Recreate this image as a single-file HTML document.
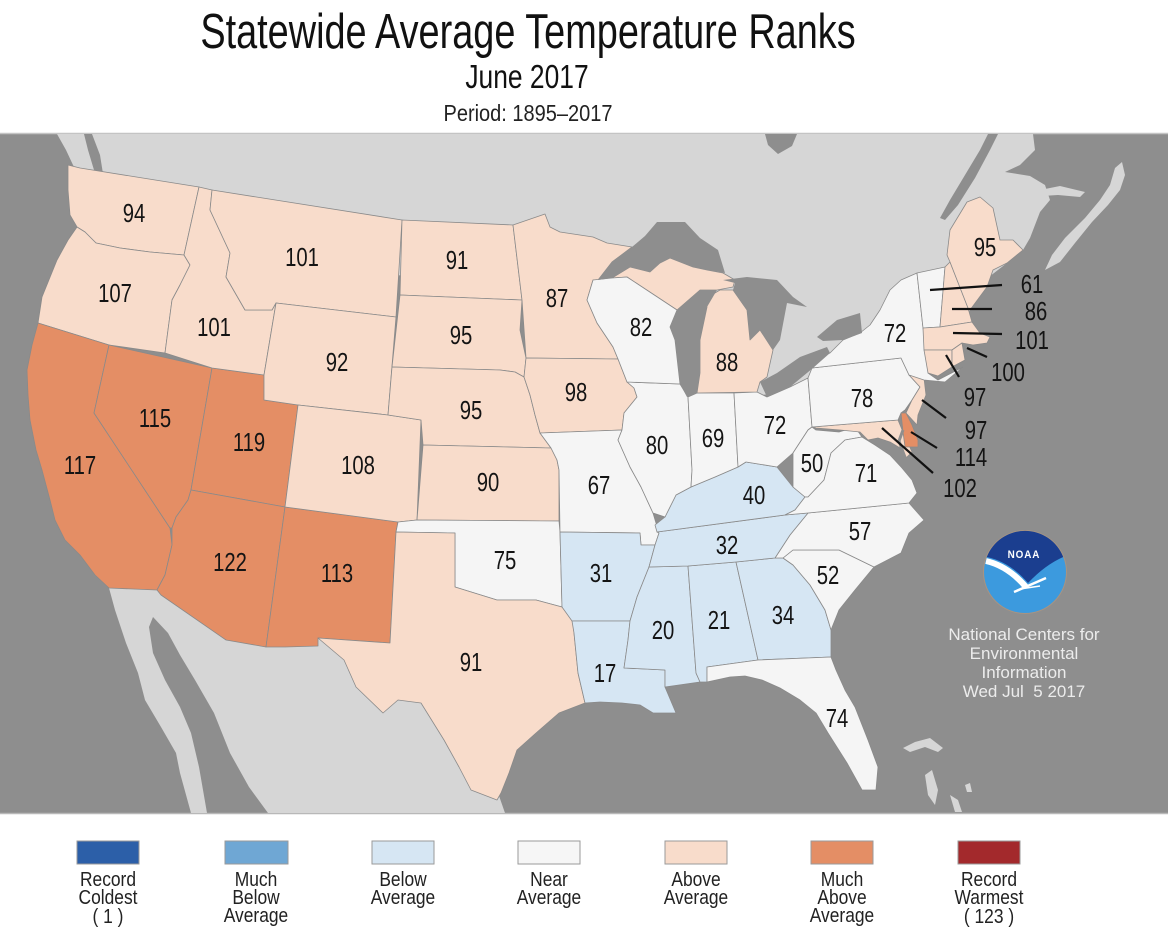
<!DOCTYPE html>
<html>
<head>
<meta charset="utf-8">
<style>
  html,body{margin:0;padding:0;background:#ffffff;}
  body{width:1168px;height:942px;overflow:hidden;}
  svg{display:block;}
  text{font-family:"Liberation Sans",Arial,sans-serif;}
  .lbl{font-size:26px;fill:#141414;}
  .st{stroke:#8a8a8a;stroke-width:0.8;stroke-linejoin:round;}
  .A{fill:#f8dccb;}
  .M{fill:#e48e65;}
  .N{fill:#f5f5f5;}
  .B{fill:#d6e6f3;}
  .lake{fill:#8e8e8e;}
  .land{fill:#d6d6d6;}
  .lg{font-size:20px;fill:#222;}
  .ncei{font-size:17px;fill:#ececec;}
</style>
</head>
<body>
<svg width="1168" height="942" viewBox="0 0 1168 942" xmlns="http://www.w3.org/2000/svg">
  <!-- Title -->
  <text transform="translate(528,48) scale(0.773,1)" text-anchor="middle" font-size="49" fill="#111">Statewide Average Temperature Ranks</text>
  <text transform="translate(527,88) scale(0.8,1)" text-anchor="middle" font-size="33" fill="#111">June 2017</text>
  <text transform="translate(528,121) scale(0.87,1)" text-anchor="middle" font-size="23" fill="#222">Period: 1895–2017</text>

  <!-- Map background (ocean) -->
  <rect x="0" y="134" width="1168" height="679" fill="#8e8e8e"/>
  <line x1="0" y1="133.5" x2="1168" y2="133.5" stroke="#c4c4c4" stroke-width="1.5"/>
  <line x1="0" y1="813.5" x2="1168" y2="813.5" stroke="#b8b8b8" stroke-width="1.5"/>

  <!-- Canada -->
  <polygon class="land" points="57,134 1033,134 1035,150 1020,165 1005,172 1030,176 1045,185 1050,200 1040,212 1030,238 1023,250 1007,263 985,280 975,300 960,330 930,345 900,370 820,390 760,395 700,395 640,330 560,300 300,260 120,240 73,165 66,150"/>
  <!-- Canadian water details -->
  <polygon class="lake" points="940,218 950,200 965,175 980,150 988,134 998,134 990,150 975,178 958,205 945,220"/>
  <polygon class="lake" points="765,134 797,134 792,146 778,154 768,145"/>
  <polygon class="lake" points="84,134 92,134 100,155 104,180 99,198 93,190 94,170 88,150"/>
  <!-- Nova Scotia / PEI -->
  <polygon class="land" points="1045,270 1052,255 1065,238 1085,218 1100,200 1110,185 1115,168 1122,162 1125,175 1120,190 1108,205 1092,222 1075,243 1060,262"/>
  <polygon class="land" points="1040,190 1060,186 1085,192 1080,197 1058,195 1042,196"/>

  <!-- Mexico -->
  <polygon class="land" points="109,588 157,590 161,595 226,640 266,647 285,647 318,638 390,643 470,660 490,770 505,813 268,813 249,787 230,753 214,713 195,680 180,655 168,633 153,617 149,627 153,653 165,680 180,707 191,733 199,767 207,813 191,813 180,773 176,753 161,727 145,700 138,673 126,643 115,610"/>
  <!-- Caribbean islands -->
  <polygon class="land" points="903,748 915,742 930,738 943,748 938,752 925,747 910,752"/>
  <polygon class="land" points="925,775 932,770 938,790 935,805 928,795"/>
  <polygon class="land" points="950,795 958,800 962,812 955,812"/>
  <polygon class="land" points="965,785 970,783 972,792 967,792"/>

  <!-- US States -->
  <g class="st">
    <polygon class="A" points="68,165 80,168 199,187 184,255 150,252 120,248 96,243 85,232 77,227 70,215 68,190"/>
    <polygon class="A" points="77,227 85,232 96,243 120,248 150,252 184,255 190,265 180,285 172,300 168,330 165,353 109,345 38,323 42,297 57,260 68,240"/>
    <polygon class="M" points="38,323 109,345 94,413 170,528 172,545 165,575 157,590 109,588 95,575 80,555 65,540 55,520 50,500 42,470 36,450 30,420 28,395 27,370 32,345"/>
    <polygon class="M" points="109,345 212,368 191,490 188,500 176,517 172,528 170,528 94,413"/>
    <polygon class="M" points="212,368 264,375 264,400 298,405 285,507 191,490"/>
    <polygon class="M" points="191,490 285,507 266,647 226,640 161,595 157,590 165,575 172,545 172,528 176,517 188,500"/>
    <polygon class="M" points="285,507 398,522 396,532 390,643 318,638 318,646 285,647 266,647"/>
    <polygon class="A" points="199,187 212,190 210,210 230,253 226,277 245,310 272,310 276,303 264,375 212,368 165,353 168,330 172,300 180,285 190,265 184,255"/>
    <polygon class="A" points="212,190 402,220 396,317 276,303 272,310 245,310 226,277 230,253 210,210"/>
    <polygon class="A" points="276,303 396,317 388,415 298,405 264,400 264,375"/>
    <polygon class="A" points="298,405 388,415 421,420 417,520 398,522 285,507"/>
    <polygon class="A" points="402,220 513,225 522,300 400,295"/>
    <polygon class="A" points="400,295 522,300 520,330 526,358 524,377 515,372 500,370 392,367"/>
    <polygon class="A" points="392,367 500,370 515,372 524,377 530,395 535,415 540,433 551,448 423,445 421,420 388,415"/>
    <polygon class="A" points="423,445 551,448 557,460 559,470 559,521 417,520"/>
    <polygon class="N" points="398,522 417,520 559,521 560,532 562,607 536,600 497,600 455,587 455,533 396,532"/>
    <polygon class="A" points="396,532 455,533 455,587 497,600 536,600 562,607 572,610 574,633 578,673 585,703 559,713 536,733 517,750 509,773 501,793 497,800 471,790 459,767 444,740 421,703 398,700 383,713 356,687 344,660 318,638 390,643"/>
    <polygon class="A" points="513,225 545,214 550,227 560,232 593,237 607,243 632,247 612,262 598,280 593,280 587,300 597,323 613,347 618,359 526,358 522,300"/>
    <polygon class="A" points="526,358 618,359 627,382 634,388 637,397 624,413 622,430 540,433 535,415 530,395 524,377"/>
    <polygon class="N" points="540,433 622,430 618,440 630,467 641,487 653,513 659,533 655,545 641,545 640,533 560,532 559,470 557,460 551,448"/>
    <polygon class="B" points="560,532 640,533 641,545 655,545 649,567 637,597 630,621 572,621 562,607"/>
    <polygon class="B" points="572,621 630,621 628,640 624,668 665,670 665,687 676,713 653,713 640,705 622,703 600,702 585,703 578,673 574,633"/>
    <polygon class="B" points="649,567 688,566 696,673 700,682 665,687 665,670 624,668 628,640 630,621 637,597"/>
    <polygon class="B" points="688,566 736,562 758,660 707,667 707,682 700,682 696,673"/>
    <polygon class="B" points="736,562 775,558 783,558 793,565 810,585 825,610 831,630 831,657 758,660"/>
    <polygon class="N" points="707,667 758,660 831,657 836,670 845,690 855,707 868,740 878,767 876,790 862,790 847,763 828,733 816,713 800,700 780,688 762,680 745,676 730,677 707,682"/>
    <polygon class="N" points="783,558 793,550 839,550 874,567 855,590 839,610 831,630 825,610 810,585 793,565"/>
    <polygon class="N" points="808,513 909,503 924,520 909,533 901,553 874,567 839,550 793,550 783,558 775,558 790,535"/>
    <polygon class="B" points="657,532 785,515 808,513 790,535 775,558 736,562 688,566 649,567 655,545 659,533"/>
    <polygon class="B" points="657,532 655,525 665,517 676,495 691,487 715,477 738,467 746,462 777,467 793,487 805,497 795,510 785,515"/>
    <polygon class="N" points="627,382 680,384 688,397 692,470 691,487 676,495 665,517 653,513 641,487 630,467 618,440 622,430 624,413 637,397 634,388"/>
    <polygon class="N" points="688,397 697,393 734,393 738,467 715,477 691,487 692,470"/>
    <polygon class="N" points="734,393 757,392 767,397 790,387 808,378 812,427 808,430 793,453 777,467 746,462 738,467"/>
    <polygon class="N" points="793,453 808,430 812,427 816,430 839,432 855,427 862,437 845,440 831,453 824,480 808,497 805,497 793,487"/>
    <polygon class="N" points="785,515 795,510 805,497 808,497 824,480 831,453 845,440 862,437 875,445 890,455 902,468 912,480 917,493 909,503 808,513"/>
    <polygon class="A" points="812,427 898,420 903,432 912,452 906,458 900,448 890,442 878,438 868,440 860,432 840,430 816,428"/>
    <polygon class="N" points="808,378 812,368 901,358 909,375 920,387 912,400 905,410 901,413 898,420 812,427"/>
    <polygon class="M" points="901,413 906,413 912,425 918,440 918,447 905,447 903,432"/>
    <polygon class="A" points="909,375 924,378 926,395 922,405 918,415 917,425 906,413 912,400 920,387"/>
    <polygon class="N" points="812,368 813,360 830,353 843,340 860,333 870,325 880,310 890,290 901,280 917,273 923,328 924,333 927,347 928,373 938,380 963,367 945,382 924,380 909,375 901,358"/>
    <polygon class="N" points="917,273 945,267 940,327 923,328"/>
    <polygon class="A" points="945,267 950,262 968,308 972,322 940,327"/>
    <polygon class="A" points="950,262 947,255 950,230 967,202 980,197 993,208 1000,240 1013,240 1023,250 1007,263 993,270 987,287 970,310 968,308"/>
    <polygon class="A" points="923,328 940,327 972,322 980,333 990,337 987,343 973,345 962,343 952,350 924,350"/>
    <polygon class="A" points="924,350 952,350 952,367 938,376 928,373"/>
    <polygon class="A" points="952,350 962,343 965,360 952,367"/>
    <polygon class="A" points="612,278 630,267 650,272 660,263 670,258 693,267 707,270 723,273 735,280 733,287 717,290 700,290 677,310 627,277"/>
    <polygon class="A" points="703,300 720,290 733,290 747,310 750,340 760,330 773,350 767,377 760,382 757,392 697,393 700,373 700,340 707,307"/>
    <polygon class="N" points="593,280 612,278 627,277 677,310 670,327 675,340 680,384 627,382 618,359 613,347 597,323 587,300"/>
  </g>

  <!-- Great Lakes -->
  <g class="lake">
    <polygon points="598,280 612,262 632,247 645,236 657,222 685,222 700,238 718,250 725,273 707,270 693,267 670,258 660,263 650,272 630,267 612,278"/>
    <polygon points="677,310 700,290 717,290 707,307 700,340 700,373 697,393 687,397 680,384 675,340 670,327"/>
    <polygon points="723,280 747,277 777,280 793,297 807,307 787,303 780,340 773,350 760,330 750,340 747,310 733,290 735,283"/>
    <polygon points="760,382 777,373 800,357 827,347 830,353 813,368 790,387 767,397"/>
    <polygon points="817,337 837,320 860,313 862,333 843,340 823,341"/>
  </g>
  <!-- Chesapeake -->
  <polyline points="903,430 899,441 903,452 908,465 912,478" fill="none" stroke="#8e8e8e" stroke-width="3"/>

  <!-- Leader lines -->
  <g stroke="#111" stroke-width="2.2">
    <line x1="930" y1="290" x2="1002" y2="285"/>
    <line x1="952" y1="309" x2="992" y2="309"/>
    <line x1="953" y1="333" x2="1002" y2="334"/>
    <line x1="967" y1="348" x2="987" y2="357"/>
    <line x1="946" y1="355" x2="959" y2="377"/>
    <line x1="922" y1="400" x2="946" y2="418"/>
    <line x1="911" y1="432" x2="937" y2="448"/>
    <line x1="882" y1="428" x2="933" y2="473"/>
  </g>

  <!-- State labels -->
  <g class="lbl" text-anchor="middle">
    <text transform="translate(134,213) scale(0.78,1)" y="9">94</text>
    <text transform="translate(115,293) scale(0.78,1)" y="9">107</text>
    <text transform="translate(302,257) scale(0.78,1)" y="9">101</text>
    <text transform="translate(214,327) scale(0.78,1)" y="9">101</text>
    <text transform="translate(457,260) scale(0.78,1)" y="9">91</text>
    <text transform="translate(557,298) scale(0.78,1)" y="9">87</text>
    <text transform="translate(461,335) scale(0.78,1)" y="9">95</text>
    <text transform="translate(337,362) scale(0.78,1)" y="9">92</text>
    <text transform="translate(576,392) scale(0.78,1)" y="9">98</text>
    <text transform="translate(471,410) scale(0.78,1)" y="9">95</text>
    <text transform="translate(155,418) scale(0.78,1)" y="9">115</text>
    <text transform="translate(249,442) scale(0.78,1)" y="9">119</text>
    <text transform="translate(80,465) scale(0.78,1)" y="9">117</text>
    <text transform="translate(358,465) scale(0.78,1)" y="9">108</text>
    <text transform="translate(488,482) scale(0.78,1)" y="9">90</text>
    <text transform="translate(641,327) scale(0.78,1)" y="9">82</text>
    <text transform="translate(727,362) scale(0.78,1)" y="9">88</text>
    <text transform="translate(895,333) scale(0.78,1)" y="9">72</text>
    <text transform="translate(985,247) scale(0.78,1)" y="9">95</text>
    <text transform="translate(862,398) scale(0.78,1)" y="9">78</text>
    <text transform="translate(775,425) scale(0.78,1)" y="9">72</text>
    <text transform="translate(713,438) scale(0.78,1)" y="9">69</text>
    <text transform="translate(657,445) scale(0.78,1)" y="9">80</text>
    <text transform="translate(599,485) scale(0.78,1)" y="9">67</text>
    <text transform="translate(812,463) scale(0.78,1)" y="9">50</text>
    <text transform="translate(866,473) scale(0.78,1)" y="9">71</text>
    <text transform="translate(754,495) scale(0.78,1)" y="9">40</text>
    <text transform="translate(860,531) scale(0.78,1)" y="9">57</text>
    <text transform="translate(230,562) scale(0.78,1)" y="9">122</text>
    <text transform="translate(337,573) scale(0.78,1)" y="9">113</text>
    <text transform="translate(505,560) scale(0.78,1)" y="9">75</text>
    <text transform="translate(471,662) scale(0.78,1)" y="9">91</text>
    <text transform="translate(727,545) scale(0.78,1)" y="9">32</text>
    <text transform="translate(601,573) scale(0.78,1)" y="9">31</text>
    <text transform="translate(828,575) scale(0.78,1)" y="9">52</text>
    <text transform="translate(783,615) scale(0.78,1)" y="9">34</text>
    <text transform="translate(719,620) scale(0.78,1)" y="9">21</text>
    <text transform="translate(663,630) scale(0.78,1)" y="9">20</text>
    <text transform="translate(605,673) scale(0.78,1)" y="9">17</text>
    <text transform="translate(837,718) scale(0.78,1)" y="9">74</text>
    <text transform="translate(1032,284) scale(0.78,1)" y="9">61</text>
    <text transform="translate(1036,311) scale(0.78,1)" y="9">86</text>
    <text transform="translate(1032,340) scale(0.78,1)" y="9">101</text>
    <text transform="translate(1008,372) scale(0.78,1)" y="9">100</text>
    <text transform="translate(975,397) scale(0.78,1)" y="9">97</text>
    <text transform="translate(976,430) scale(0.78,1)" y="9">97</text>
    <text transform="translate(971,457) scale(0.78,1)" y="9">114</text>
    <text transform="translate(960,488) scale(0.78,1)" y="9">102</text>
  </g>

  <!-- NOAA logo -->
  <circle cx="1025" cy="572" r="41.5" fill="#3c9ade" stroke="#a89482" stroke-width="1"/>
  <path d="M986.8,557 A41,41 0 0 1 1063.2,557 Q1045,565 1028,583 Q1010,562 986.8,557 Z" fill="#1b3e8f"/>
  <path d="M986,561 Q1008,566 1026,587" fill="none" stroke="#ffffff" stroke-width="6"/>
  <path d="M1014,592 L1046,578" fill="none" stroke="#ffffff" stroke-width="2.5"/>
  <path d="M1020,589 L1040,586" fill="none" stroke="#ffffff" stroke-width="1.5"/>
  <text transform="translate(1024,558) scale(0.9,1)" text-anchor="middle" font-size="11" font-weight="bold" fill="#ffffff" letter-spacing="1">NOAA</text>

  <!-- NCEI text -->
  <g class="ncei" text-anchor="middle">
    <text x="1024" y="640">National Centers for</text>
    <text x="1024" y="659">Environmental</text>
    <text x="1024" y="678">Information</text>
    <text x="1024" y="697" style="white-space:pre">Wed Jul  5 2017</text>
  </g>

  <!-- Legend -->
  <g stroke="#9a9a9a" stroke-width="1">
    <rect x="77" y="841" width="62" height="23" fill="#2c5fa8"/>
    <rect x="225" y="841" width="63" height="23" fill="#6fa7d4"/>
    <rect x="372" y="841" width="62" height="23" fill="#d6e6f3"/>
    <rect x="518" y="841" width="62" height="23" fill="#f6f6f6"/>
    <rect x="665" y="841" width="62" height="23" fill="#f8dccb"/>
    <rect x="811" y="841" width="62" height="23" fill="#e48e65"/>
    <rect x="958" y="841" width="62" height="23" fill="#a3292c"/>
  </g>
  <g class="lg" text-anchor="middle">
    <text transform="translate(108,886) scale(0.87,1)">Record</text>
    <text transform="translate(108,904) scale(0.87,1)">Coldest</text>
    <text transform="translate(108,923) scale(0.87,1)">( 1 )</text>

    <text transform="translate(256,886) scale(0.87,1)">Much</text>
    <text transform="translate(256,904) scale(0.87,1)">Below</text>
    <text transform="translate(256,922) scale(0.87,1)">Average</text>

    <text transform="translate(403,886) scale(0.87,1)">Below</text>
    <text transform="translate(403,904) scale(0.87,1)">Average</text>

    <text transform="translate(549,886) scale(0.87,1)">Near</text>
    <text transform="translate(549,904) scale(0.87,1)">Average</text>

    <text transform="translate(696,886) scale(0.87,1)">Above</text>
    <text transform="translate(696,904) scale(0.87,1)">Average</text>

    <text transform="translate(842,886) scale(0.87,1)">Much</text>
    <text transform="translate(842,904) scale(0.87,1)">Above</text>
    <text transform="translate(842,922) scale(0.87,1)">Average</text>

    <text transform="translate(989,886) scale(0.87,1)">Record</text>
    <text transform="translate(989,904) scale(0.87,1)">Warmest</text>
    <text transform="translate(989,923) scale(0.87,1)">( 123 )</text>
  </g>
</svg>
</body>
</html>
